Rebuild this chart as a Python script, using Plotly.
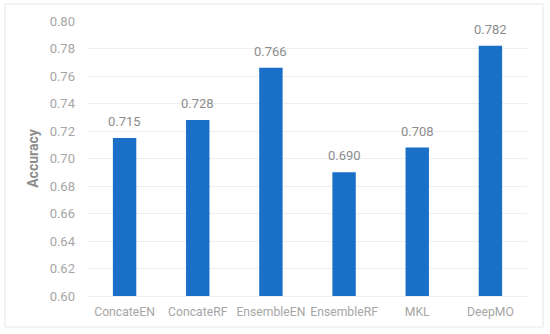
import plotly.graph_objects as go

categories = ["ConcateEN", "ConcateRF", "EnsembleEN", "EnsembleRF", "MKL", "DeepMO"]
accuracy = [0.715, 0.728, 0.766, 0.690, 0.708, 0.782]
tick_vals = [0.60, 0.62, 0.64, 0.66, 0.68, 0.70, 0.72, 0.74, 0.76, 0.78, 0.80]

W, H = 550, 334
L, R, T, B = 88, 23, 21, 38

FONT = "Roboto"

fig = go.Figure(go.Bar(
    x=categories, y=accuracy,
    marker=dict(color="#1a70c7", line=dict(width=0)),
    cliponaxis=False,
    width=0.32,
    hoverinfo="x+y",
))

for c, v in zip(categories, accuracy):
    fig.add_annotation(x=c, y=v, text=f"{v:.3f}", showarrow=False,
                       yanchor="bottom", yshift=7,
                       font=dict(color="#8c8c8c", size=13, family=FONT))

pw = W - L - R
ph = H - T - B
fig.add_shape(type="rect", xref="paper", yref="paper",
              x0=(5 - L) / pw, x1=(543 - L) / pw,
              y0=(H - B - 327) / ph, y1=(H - B - 4) / ph,
              line=dict(color="#e6e6e6", width=1), layer="below")

fig.update_layout(
    width=W, height=H,
    margin=dict(l=L, r=R, t=T, b=B, autoexpand=False),
    paper_bgcolor="white", plot_bgcolor="white",
    font=dict(family=FONT, color="#a6a6a6", size=13),
    showlegend=False,
    xaxis=dict(showgrid=False, showline=True, linecolor="#eeeeee", ticks="",
               tickangle=0, automargin=False, ticklabelstandoff=4,
               tickfont=dict(size=12.2, color="#a6a6a6", family=FONT)),
    yaxis=dict(range=[0.60, 0.80], tickvals=tick_vals, automargin=False,
               tickformat=".2f", showgrid=True, gridcolor="#eeeeee",
               zeroline=False, ticks="", ticklen=0, ticklabelstandoff=12,
               tickfont=dict(size=13, color="#a6a6a6", family=FONT),
               title=dict(text="<b>Accuracy</b>", font=dict(size=14, color="#8c8c8c", family=FONT), standoff=7)),
)

fig.write_html("out.html", config={"displayModeBar": False},
               post_script="document.body.style.margin='0';document.body.style.padding='0';")
